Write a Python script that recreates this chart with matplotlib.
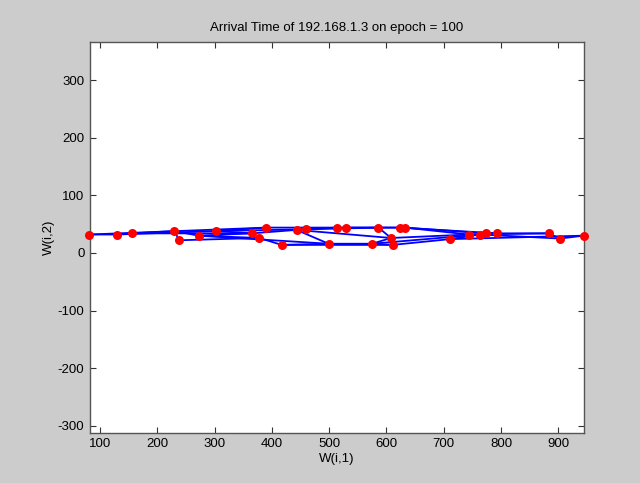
import numpy as np
import matplotlib
matplotlib.use('Agg')
import matplotlib.pyplot as plt

# SOM weights, 5 x 6 grid (row-major)
w1 = [81, 390, 513, 529, 624, 793,
      129, 302, 460, 586, 632, 773,
      156, 365, 443, 608, 744, 883,
      230, 272, 499, 575, 763, 903,
      238, 378, 417, 611, 711, 944]
w2 = [32, 44, 44, 44, 44, 34,
      32, 38, 41, 44, 44, 34,
      34, 34, 40, 26, 32, 34,
      38, 30, 16, 16, 32, 25,
      22, 26, 14, 14, 24, 30]
grid_rows, grid_cols = 5, 6

x_ticks = [100, 200, 300, 400, 500, 600, 700, 800, 900]
y_ticks = [-300, -200, -100, 0, 100, 200, 300]

plt.rcParams['font.family'] = ['Liberation Sans', 'DejaVu Sans']
plt.rcParams['font.size'] = 9.5
plt.rcParams['axes.unicode_minus'] = False

fig = plt.figure(figsize=(6.4, 4.83), dpi=100, facecolor='#cccccc')
ax = fig.add_axes([0.1406, 0.104, 0.912 - 0.1406, 0.913 - 0.104])
ax.set_facecolor('white')

W1 = np.array(w1).reshape(grid_rows, grid_cols)
W2 = np.array(w2).reshape(grid_rows, grid_cols)

# neighbour links along rows and columns
for r in range(grid_rows):
    ax.plot(W1[r, :], W2[r, :], color='#0000ff', lw=1.3, zorder=2)
for c in range(grid_cols):
    ax.plot(W1[:, c], W2[:, c], color='#0000ff', lw=1.3, zorder=2)

ax.plot(w1, w2, 'o', color='#ff0000', markersize=6.5, markeredgewidth=0, zorder=3,
        clip_on=False)

ax.set_xlim(82.5, 944.3)
ax.set_ylim(-312, 366)
ax.set_xticks(x_ticks)
ax.set_yticks(y_ticks)
ax.tick_params(direction='in', length=4, width=0.8, color='#333333',
               top=True, right=True, labelsize=9.5, pad=4)
for s in ax.spines.values():
    s.set_color('#555555')
    s.set_linewidth(1.0)

ax.set_title('Arrival Time of 192.168.1.3 on epoch = 100', fontsize=9.5, pad=8)
ax.set_xlabel('W(i,1)', fontsize=9.5, labelpad=2)
ax.set_ylabel('W(i,2)', fontsize=9.5, labelpad=2)

fig.savefig('out.png', dpi=100, facecolor=fig.get_facecolor())
